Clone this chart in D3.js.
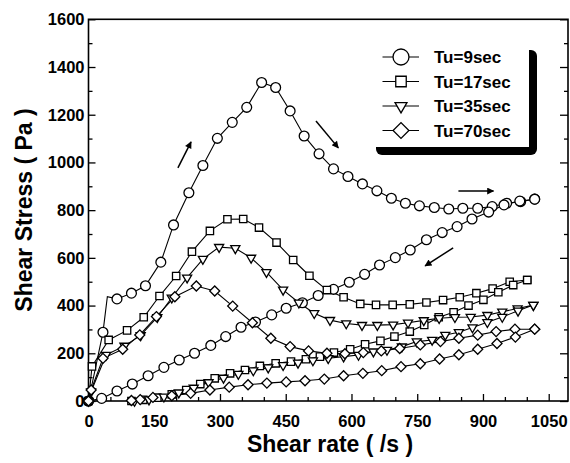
<!DOCTYPE html>
<html>
<head>
<meta charset="utf-8">
<script src="https://cdn.jsdelivr.net/npm/d3@7"></script>
<style>
  body { margin: 0; background: #fff; }
  text { font-family: "Liberation Sans", Arial, sans-serif; font-weight: bold; }
</style>
</head>
<body>
<div id="chart"></div>
<script>
///////////////////////////////////////////////////////
//////////////////////// Data /////////////////////////
///////////////////////////////////////////////////////

var seriesNames = ["Tu=9sec", "Tu=17sec", "Tu=35sec", "Tu=70sec"];
var xTickLabels = [0, 150, 300, 450, 600, 750, 900, 1050];
var yTickLabels = [0, 200, 400, 600, 800, 1000, 1200, 1400, 1600];

// [shear rate, shear stress] ; a third value 0 = line point without marker
var tu9Up = [[0,0],[33,288],[43,437,0],[65,428],[98,452],[130,483],[165,582],[194,738],[229,873],[261,987],
  [294,1101],[328,1168],[361,1231],[395,1335],[427,1314],[460,1216],[492,1111],[526,1036],[559,973],
  [592,941],[625,910],[658,881],[691,850],[723,829],[755,818],[789,811],[822,805],[854,808],[888,808],
  [921,815],[954,829],[986,836],[1018,846]];
var tu9Down = [[1018,846],[984,838],[948,822],[913,792],[875,763],[841,731],[807,706],[771,676],[734,633],
  [700,601],[664,570],[630,531],[595,498],[559,468],[524,442],[488,412],[451,389],[418,361],[381,331],
  [348,309],[313,270],[279,233],[242,200],[207,172],[172,141],[136,106],[100,71],[65,42],[30,11],[0,0]];

var tu17Up = [[0,0],[8,145],[46,256],[88,296],[126,351],[162,440],[200,524],[236,626],[277,713],[317,762],
  [353,763],[389,727],[429,664],[467,591],[504,525],[544,465],[582,435],[620,407],[656,403],[694,403],
  [733,405],[771,413],[809,423],[847,435],[885,452],[922,471],[961,500],[1001,507]];
var tu17Down = [[1001,507],[969,486],[935,456],[901,424],[867,400],[833,372],[799,351],[766,319],[733,291],
  [698,270],[666,252],[631,238],[597,217],[560,203],[528,186],[496,175],[462,165],[427,158],[391,147],
  [357,130],[323,116],[288,95],[255,71],[223,46],[190,28],[157,14],[125,5],[98,0]];

var tu35Up = [[0,0],[6,40],[40,193],[82,231],[119,275],[157,351],[190,433],[225,517],[261,595],[298,645],
  [335,640],[371,600],[406,540],[444,466],[480,412],[515,368],[551,339],[588,325],[624,318],[659,318],
  [695,320],[729,328],[765,338],[800,347],[836,351],[872,352],[910,360],[944,374],[979,388],[1015,402]];
var tu35Down = [[1015,402],[980,378],[944,352],[910,330],[876,308],[845,288],[814,277],[784,256],[749,249],
  [715,228],[681,214],[650,207],[616,193],[582,186],[547,179],[512,170],[478,160],[444,150],[410,140],
  [376,128],[342,113],[308,97],[274,78],[240,55],[206,35],[172,18],[138,6],[105,0]];

var tu70Up = [[0,0],[6,46],[33,179],[78,217],[117,277],[155,354],[197,437],[246,482],[288,461],[329,398],
  [374,328],[416,263],[460,228],[502,210],[544,200],[585,198],[627,203],[668,210],[710,220],[757,235],
  [803,249],[845,263],[888,276],[930,291],[973,301],[1018,301]];
var tu70Down = [[1018,301],[974,268],[932,241],[888,217],[845,194],[801,176],[757,156],[713,144],[669,127],
  [626,116],[582,106],[538,92],[494,85],[451,80],[407,75],[364,68],[321,58],[277,46],[233,32],[190,22],
  [147,15],[118,6],[98,2]];

// direction arrows [x1, y1, x2, y2] in data units
var arrows = [[204,977,234,1086],[519,1174,570,1061],[844,880,924,880],[832,642,768,566]];

///////////////////////////////////////////////////////
/////////////////////// Chart /////////////////////////
///////////////////////////////////////////////////////

var cfg = {
  w: 570,
  h: 463,
  left: 88.5, right: 568, top: 19.3, bottom: 401,
  xMax: 1094
};

var svg = d3.select("#chart")
  .append("svg")
  .attr("width", cfg.w)
  .attr("height", cfg.h);

var x = d3.scaleLinear().domain([0, cfg.xMax]).range([cfg.left, cfg.right]);
var y = d3.scaleLinear().domain([0, 1600]).range([cfg.bottom, cfg.top]);

// symbols: circle, square, down triangle, diamond
var shapes = [
  {type: d3.symbolCircle, size: 76, rot: 0, lsize: 200},
  {type: d3.symbolSquare, size: 54, rot: 0, lsize: 110},
  {type: d3.symbolTriangle, size: 36, rot: 180, lsize: 62},
  {type: d3.symbolSquare, size: 50, rot: 45, lsize: 125}
];

var curves = [
  {s: 0, pts: tu9Up}, {s: 0, pts: tu9Down},
  {s: 1, pts: tu17Up}, {s: 1, pts: tu17Down},
  {s: 2, pts: tu35Up}, {s: 2, pts: tu35Down},
  {s: 3, pts: tu70Up}, {s: 3, pts: tu70Down}
];

var line = d3.line().x(function(d) { return x(d[0]); }).y(function(d) { return y(d[1]); });

// Minor ticks (every 50 on x, 100 on y), pointing inward
var xMinor = d3.range(0, 1100, 50).filter(function(v) { return v % 150 !== 0; });
var yMinor = d3.range(100, 1600, 200);

svg.append("g")
  .attr("transform", "translate(0," + cfg.bottom + ")")
  .call(d3.axisBottom(x).tickValues(xMinor).tickSize(-4).tickFormat(""))
  .call(function(g) { g.select(".domain").remove(); });
svg.append("g")
  .attr("transform", "translate(" + cfg.left + ",0)")
  .call(d3.axisLeft(y).tickValues(yMinor).tickSize(-4).tickFormat(""))
  .call(function(g) { g.select(".domain").remove(); });
svg.append("g")
  .attr("transform", "translate(" + cfg.right + ",0)")
  .call(d3.axisRight(y).tickValues(yMinor).tickSize(-4).tickFormat(""))
  .call(function(g) { g.select(".domain").remove(); });

// Major ticks + labels
svg.append("g")
  .attr("class", "xaxis")
  .attr("transform", "translate(0," + cfg.bottom + ")")
  .call(d3.axisBottom(x).tickValues(xTickLabels).tickSize(-7).tickPadding(14).tickFormat(d3.format("d")))
  .call(function(g) { g.select(".domain").remove(); });
svg.append("g")
  .attr("class", "yaxis")
  .attr("transform", "translate(" + cfg.left + ",0)")
  .call(d3.axisLeft(y).tickValues(yTickLabels).tickSize(-7).tickPadding(4).tickFormat(d3.format("d")))
  .call(function(g) { g.select(".domain").remove(); });
svg.append("g")
  .attr("transform", "translate(" + cfg.right + ",0)")
  .call(d3.axisRight(y).tickValues(yTickLabels).tickSize(-8).tickFormat(""))
  .call(function(g) { g.select(".domain").remove(); });

svg.selectAll(".tick line").attr("stroke", "#000").attr("stroke-width", 1.3);
svg.selectAll(".xaxis text, .yaxis text")
  .attr("font-size", "16.5px")
  .attr("font-family", "Liberation Sans, Arial, sans-serif")
  .attr("font-weight", "bold")
  .attr("fill", "#000");

// Frame
svg.append("rect")
  .attr("x", cfg.left).attr("y", cfg.top)
  .attr("width", cfg.right - cfg.left).attr("height", cfg.bottom - cfg.top)
  .attr("fill", "none").attr("stroke", "#000").attr("stroke-width", 1.6);

// Curves, then markers on top
var plot = svg.append("g");
curves.forEach(function(c) {
  plot.append("path")
    .datum(c.pts)
    .attr("d", line)
    .attr("fill", "none")
    .attr("stroke", "#000")
    .attr("stroke-width", 1.1);
});
curves.forEach(function(c) {
  var sh = shapes[c.s];
  plot.append("g")
    .selectAll("path")
    .data(c.pts.filter(function(d) { return d[2] !== 0; }))
    .enter()
    .append("path")
    .attr("transform", function(d) { return "translate(" + x(d[0]) + "," + y(d[1]) + ") rotate(" + sh.rot + ")"; })
    .attr("d", d3.symbol().type(sh.type).size(sh.size))
    .attr("fill", "#fff")
    .attr("stroke", "#000")
    .attr("stroke-width", 1.3);
});

// Arrows
svg.append("defs").append("marker")
  .attr("id", "head")
  .attr("viewBox", "0 0 10 10")
  .attr("refX", 9).attr("refY", 5)
  .attr("markerWidth", 11).attr("markerHeight", 7)
  .attr("orient", "auto")
  .attr("markerUnits", "userSpaceOnUse")
  .append("path")
  .attr("d", "M0,0L10,5L0,10z")
  .attr("fill", "#000");

svg.append("g")
  .selectAll("line")
  .data(arrows)
  .enter()
  .append("line")
  .attr("x1", function(d) { return x(d[0]); })
  .attr("y1", function(d) { return y(d[1]); })
  .attr("x2", function(d) { return x(d[2]); })
  .attr("y2", function(d) { return y(d[3]); })
  .attr("stroke", "#000")
  .attr("stroke-width", 1.5)
  .attr("marker-end", "url(#head)");

// Legend with drop shadow
var lg = svg.append("g").attr("transform", "translate(368,42)");
lg.append("rect")
  .attr("x", 8).attr("y", 8).attr("width", 161).attr("height", 105)
  .attr("rx", 6).attr("fill", "#000");
lg.append("rect")
  .attr("x", 0).attr("y", 0).attr("width", 161).attr("height", 105)
  .attr("fill", "#fff");

var rows = lg.selectAll(".row")
  .data(seriesNames)
  .enter()
  .append("g")
  .attr("transform", function(d, i) { return "translate(0," + (15 + i * 24.5) + ")"; });
rows.append("line")
  .attr("x1", 14.5).attr("x2", 51).attr("y1", 0).attr("y2", 0)
  .attr("stroke", "#000").attr("stroke-width", 1.1);
rows.append("path")
  .attr("transform", function(d, i) { return "translate(33,0) rotate(" + shapes[i].rot + ")"; })
  .attr("d", function(d, i) { return d3.symbol().type(shapes[i].type).size(shapes[i].lsize)(); })
  .attr("fill", "#fff").attr("stroke", "#000").attr("stroke-width", 1.3);
rows.append("text")
  .attr("x", 66).attr("y", 6)
  .attr("font-size", "17px")
  .text(function(d) { return d; });

// Axis titles
svg.append("text")
  .attr("x", 330).attr("y", 452)
  .attr("text-anchor", "middle")
  .attr("font-size", "23px")
  .text("Shear rate ( /s )");
svg.append("text")
  .attr("transform", "translate(31.5,210) rotate(-90)")
  .attr("text-anchor", "middle")
  .attr("font-size", "23px")
  .text("Shear Stress ( Pa )");
</script>
</body>
</html>
